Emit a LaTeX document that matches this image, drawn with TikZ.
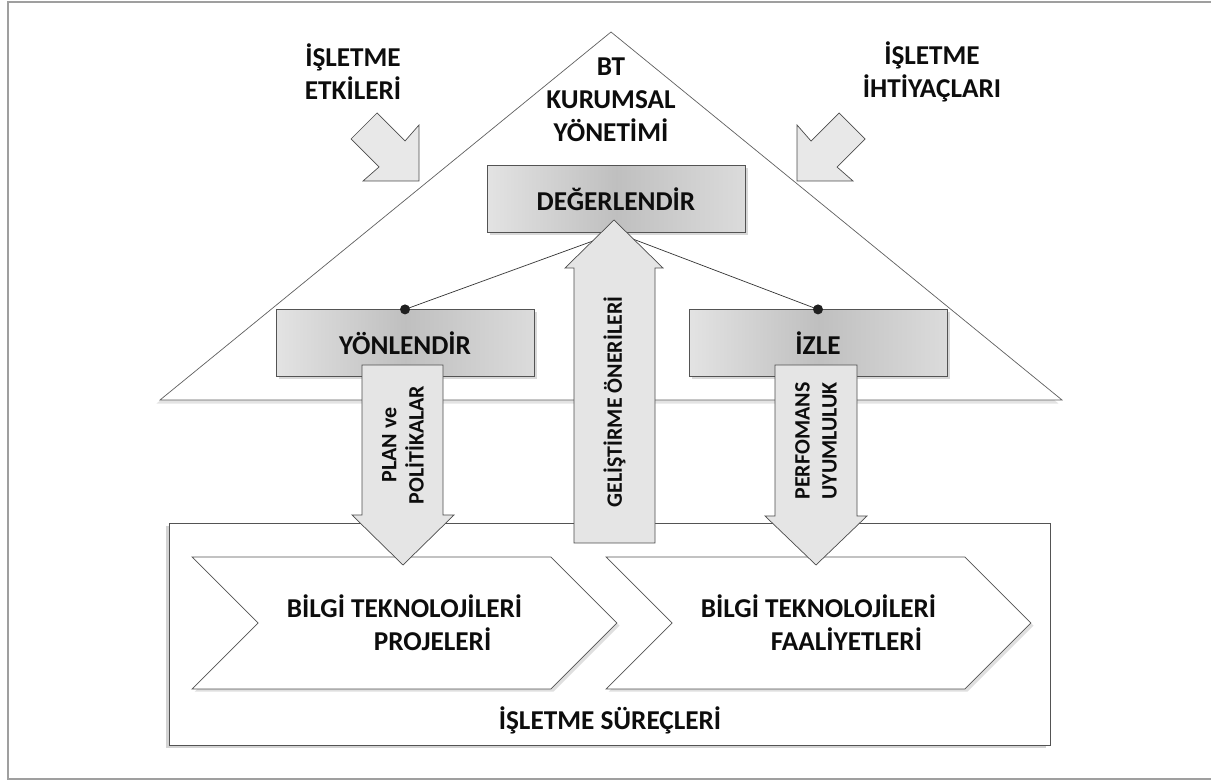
\documentclass[tikz,border=0pt]{standalone}
\usepackage{fontspec}
\setmainfont{Carlito}
\usetikzlibrary{positioning,shadows,shapes.symbols}

\begin{document}
\begin{tikzpicture}[
    x=0.02cm, y=-0.02cm,
    font=\bfseries\fontsize{15.5}{18.7}\selectfont,
    text=black!95,
    %% ── node styles ──────────────────────────────────────────
    roof/.style    = {draw=gray!75!black, fill=white, line join=miter,
                      drop shadow={opacity=0.22, shadow xshift=-2pt, shadow yshift=-2pt}},
    govbox/.style  = {draw=gray!65!black, left color=gray!22, right color=gray!28,
                      middle color=gray!50, minimum width=5.16cm, minimum height=1.33cm,
                      drop shadow={opacity=0.3, shadow xshift=1.5pt, shadow yshift=-1.5pt}},
    procbox/.style = {draw=gray!65!black, fill=white, minimum width=17.62cm,
                      minimum height=4.44cm,
                      drop shadow={opacity=0.35, shadow xshift=-2pt, shadow yshift=-1.5pt}},
    chevbox/.style = {signal, signal from=west, signal to=east, signal pointer angle=90,
                      draw=gray!65!black, fill=white, minimum width=8.5cm,
                      minimum height=2.64cm, align=left,
                      drop shadow={opacity=0.25, shadow xshift=1.5pt, shadow yshift=-1.5pt}},
    blockarr/.style = {draw=gray!60!black, fill=gray!20, line join=miter},
    sidearr/.style  = {draw=gray!60!black, fill=gray!18, line join=miter},
    dotn/.style    = {circle, fill=gray!25!black, inner sep=0pt, minimum size=0.2cm},
    lbl/.style     = {align=center},
    vlbl/.style    = {rotate=90, align=center, font=\bfseries\fontsize{12.5}{15.5}\selectfont}
]
\useasboundingbox (0,0) rectangle (1211,780);

%% ── frame ────────────────────────────────────────────────────
\draw[gray!75, line width=0.05cm] (1211,2) -- (8,2) -- (8,779) -- (1211,779);

%% ── roof: BT kurumsal yönetimi ───────────────────────────────
\draw[roof] (160,400) -- (611,32) -- (1062,400) -- cycle;
\node[lbl] (bt) at (611,100) {BT\\KURUMSAL\\YÖNETİMİ};

%% ── outside influences ───────────────────────────────────────
\node[lbl] (etk) at (353,72) {İŞLETME\\ETKİLERİ};
\node[lbl] (iht) at (932,72) {İŞLETME\\İHTİYAÇLARI};
\draw[sidearr] (419,181) -- (419,125) -- (405,141) -- (377,113) -- (351,139)
    -- (379,167) -- (363,181) -- cycle;
\draw[sidearr] (797,181) -- (797,125) -- (811,141) -- (839,113) -- (865,139)
    -- (837,167) -- (853,181) -- cycle;

%% ── process box and chevrons ─────────────────────────────────
\node[procbox] (proc) at (609.5,634) {};
\node (sur) at (610,720) {İŞLETME SÜREÇLERİ};
\node[chevbox] (proj) at (404.5,623)
    {BİLGİ TEKNOLOJİLERİ\\\hspace*{1.74cm}PROJELERİ};
\node[chevbox] (faal) at (818.5,623)
    {BİLGİ TEKNOLOJİLERİ\\\hspace*{1.4cm}FAALİYETLERİ};

%% ── governance boxes ─────────────────────────────────────────
\node[govbox] (deg) at (616,199) {DEĞERLENDİR};
\node[govbox] (yon) at (405,343) {YÖNLENDİR};
\node[govbox] (izl) at (818,343) {İZLE};

\draw[gray!40!black] (yon.north) -- (deg.south);
\draw[gray!40!black] (izl.north) -- (deg.south);
\node[dotn] at (yon.north) {};
\node[dotn] at (izl.north) {};

%% ── block arrows ─────────────────────────────────────────────
\draw[blockarr] (574,543) -- (574,268) -- (565,268) -- (614,220) -- (663,268)
    -- (655,268) -- (655,543) -- cycle;
\node[vlbl] (gel) at (614.5,402) {GELİŞTİRME ÖNERİLERİ};

\draw[blockarr] (362,365) -- (362,515) -- (352,515) -- (403,565) -- (454,515)
    -- (443,515) -- (443,365) -- cycle;
\node[vlbl] (plan) at (403,445) {PLAN ve\\POLİTİKALAR};

\draw[blockarr] (775,365) -- (775,516) -- (765,516) -- (816,565) -- (867,516)
    -- (857,516) -- (857,365) -- cycle;
\node[vlbl] (perf) at (816,441) {PERFOMANS\\UYUMLULUK};

\end{tikzpicture}
\end{document}
